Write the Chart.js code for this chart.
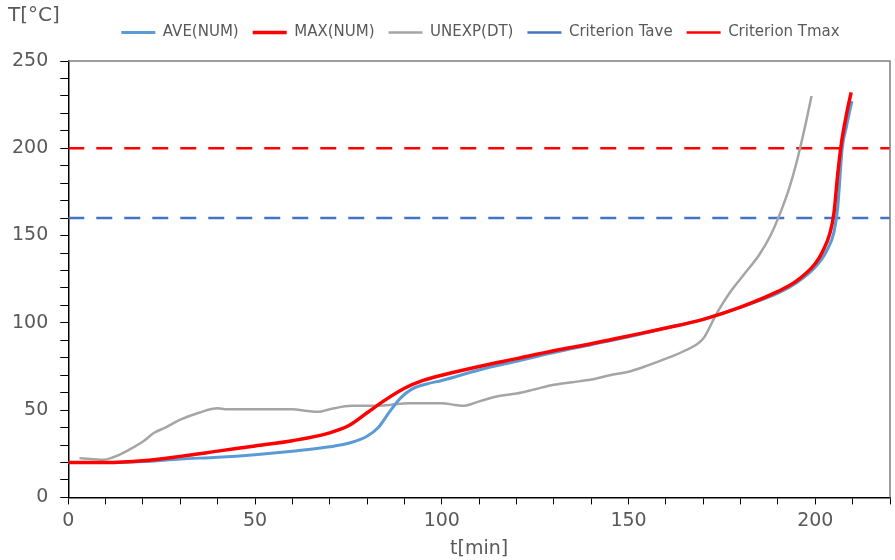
<!DOCTYPE html>
<html>
<head>
<meta charset="utf-8">
<script src="https://cdn.jsdelivr.net/npm/chart.js@4/dist/chart.umd.min.js"></script>
<style>
  html, body { margin: 0; padding: 0; background: #fff; }
  #wrap { width: 895px; height: 560px; }
</style>
</head>
<body>
<div id="wrap"><canvas id="chart"></canvas></div>
<script>
// data
const aveTime = [0, 10, 20, 30, 40, 50, 60, 70, 75, 80, 83, 86, 89, 92, 96, 100, 110, 120, 130, 140, 150, 160, 170, 180, 190, 195, 200, 203, 205, 206, 207.2, 208.3, 209.8];
const aveTemp = [20, 20, 20.5, 22, 23, 24.5, 26.5, 29, 31, 35, 40, 49, 57, 62, 65, 67, 73, 78, 83, 87.5, 92, 97, 102, 109, 117, 123, 132, 141, 152, 166, 200, 212, 227];

const maxTime = [0, 10, 20, 30, 40, 50, 60, 70, 75, 80, 85, 90, 95, 100, 110, 120, 130, 140, 150, 160, 170, 180, 190, 195, 200, 202, 204, 205, 206, 207, 208.5, 209.6];
const maxTemp = [20, 20, 21, 23.5, 26.5, 29.5, 32.5, 37, 41, 48.5, 56, 62.5, 67, 70, 75, 79.5, 84, 88, 92.5, 97, 102, 109, 118, 124, 134, 141, 152, 163, 185, 203, 221, 232];

const expTime = [3, 6, 9.5, 12, 16, 20, 23, 26, 30, 35, 40, 42, 50, 60, 64, 67, 70, 76, 80, 86, 91, 100, 103.5, 106, 110, 115, 120, 125, 130, 135, 140, 145, 150, 155, 160, 165, 170, 173.5, 177, 181, 185, 188, 191, 193, 195, 197, 199];
const expTemp = [22.5, 22, 21.5, 23, 27, 32, 37, 40, 44.5, 48.5, 51, 50.5, 50.5, 50.5, 49.5, 49, 50.5, 52.5, 52.5, 53, 54, 54, 53, 52.5, 55, 58, 59.5, 62, 64.5, 66, 67.5, 70, 72, 75.5, 79.5, 84, 91, 105, 117, 128, 139, 150, 165, 177, 192, 210, 230];

const critTave = 160;
const critTmax = 200;
const timeRange = [0, 220];

const seriesNames = ['AVE(NUM)', 'MAX(NUM)', 'UNEXP(DT)', 'Criterion Tave', 'Criterion Tmax'];

function pairs(xs, ys) {
  return xs.map((x, i) => ({ x: x, y: ys[i] }));
}

const textColor = '#595959';

// extra room under the legend, and move it over the plot centre
const legendSpace = {
  id: 'legendSpace',
  beforeInit(chart) {
    const fit = chart.legend.fit;
    chart.legend.fit = function () {
      fit.bind(chart.legend)();
      this.height += 11;
    };
  },
  afterLayout(chart) {
    chart.legend.left += 32;
    chart.legend.right += 32;
  }
};

// axis caption and the box around the plot
const extras = {
  id: 'extras',
  afterDraw(chart) {
    const ctx = chart.ctx;
    const a = chart.chartArea;
    ctx.save();
    ctx.strokeStyle = '#7f7f7f';
    ctx.lineWidth = 1.5;
    ctx.beginPath();
    ctx.moveTo(a.left, a.top);
    ctx.lineTo(a.right, a.top);
    ctx.lineTo(a.right, a.bottom);
    ctx.stroke();
    ctx.fillStyle = textColor;
    ctx.font = '20px "DejaVu Sans"';
    ctx.textBaseline = 'middle';
    ctx.fillText('T[°C]', 8, 16);
    ctx.restore();
  }
};

new Chart(document.getElementById('chart'), {
  type: 'line',
  data: {
    datasets: [
      { label: seriesNames[0], data: pairs(aveTime, aveTemp), borderColor: '#5B9BD5', backgroundColor: '#5B9BD5', borderWidth: 3, order: 1 },
      { label: seriesNames[1], data: pairs(maxTime, maxTemp), borderColor: '#FF0000', backgroundColor: '#FF0000', borderWidth: 3.5, order: 0 },
      { label: seriesNames[2], data: pairs(expTime, expTemp), borderColor: '#A5A5A5', backgroundColor: '#A5A5A5', borderWidth: 2.5, order: 1 },
      { label: seriesNames[3], data: pairs(timeRange, [critTave, critTave]), borderColor: '#4472C4', backgroundColor: '#4472C4', borderWidth: 2.5, borderDash: [16, 12], order: 2 },
      { label: seriesNames[4], data: pairs(timeRange, [critTmax, critTmax]), borderColor: '#FF0000', backgroundColor: '#FF0000', borderWidth: 2.5, borderDash: [16, 12], order: 2 }
    ]
  },
  options: {
    responsive: true,
    maintainAspectRatio: false,
    animation: false,
    layout: { padding: { left: 0, right: -2, top: 11, bottom: 0 } },
    elements: {
      point: { radius: 0 },
      line: { cubicInterpolationMode: 'monotone' }
    },
    plugins: {
      legend: {
        position: 'top',
        labels: {
          usePointStyle: true,
          pointStyle: 'line',
          pointStyleWidth: 34,
          padding: 14,
          color: textColor,
          font: { family: 'DejaVu Sans', size: 15 },
          sort: (a, b) => a.datasetIndex - b.datasetIndex
        }
      },
      tooltip: { enabled: false }
    },
    scales: {
      x: {
        type: 'linear',
        min: 0,
        max: 220,
        border: { color: '#000', width: 1.5 },
        grid: { drawOnChartArea: false, drawTicks: true, tickLength: 7, color: '#000' },
        ticks: {
          stepSize: 10,
          autoSkip: false,
          maxRotation: 0,
          padding: 5,
          color: textColor,
          font: { family: 'DejaVu Sans', size: 19 },
          callback: v => (v % 50 === 0 ? v : '')
        },
        title: {
          display: true,
          text: 't[min]',
          color: textColor,
          font: { family: 'DejaVu Sans', size: 19 },
          padding: { top: 0, bottom: 0 }
        }
      },
      y: {
        min: 0,
        max: 250,
        border: { color: '#000', width: 1.5 },
        grid: { drawOnChartArea: false, drawTicks: true, tickLength: 8, color: '#000' },
        ticks: {
          stepSize: 10,
          autoSkip: false,
          padding: 12,
          color: textColor,
          font: { family: 'DejaVu Sans', size: 19 },
          callback: v => (v % 50 === 0 ? v : '')
        }
      }
    }
  },
  plugins: [legendSpace, extras]
});
</script>
</body>
</html>
